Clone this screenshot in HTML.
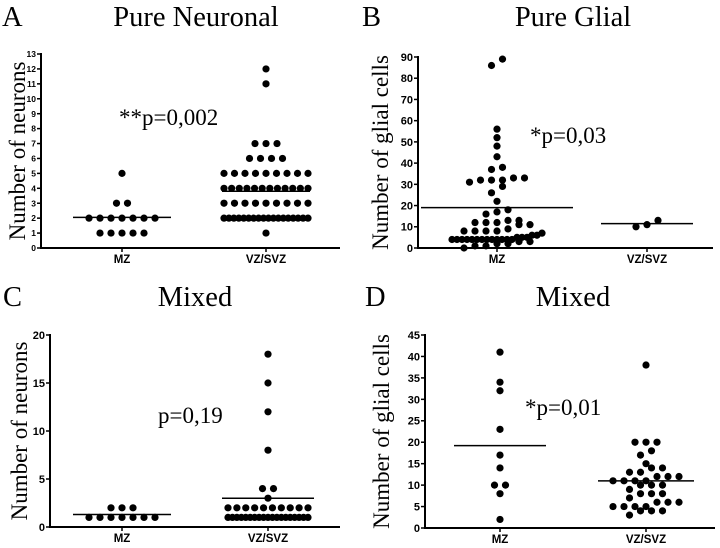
<!DOCTYPE html>
<html><head><meta charset="utf-8"><style>
html,body{margin:0;padding:0;background:#fff;}
svg{display:block;}
.ttl{font-family:"Liberation Serif",serif;font-size:28.5px;fill:#000;}
.lab{font-family:"Liberation Serif",serif;font-size:23px;fill:#000;}
.tk{font-family:"Liberation Sans",sans-serif;font-weight:bold;fill:#000;}
</style></head><body>
<svg id="chart" width="720" height="548" viewBox="0 0 720 548"></svg>
<script>
// Panel A: Pure Neuronal (number of neurons)
const aCategories = ["MZ","VZ/SVZ"];
const aMZ = [1,1,1,1,1,2,2,2,2,2,2,2,3,3,5];
const aVZ = [1,2,2,2,2,2,2,2,2,2,2,2,2,2,2,2,2,2,2,3,3,3,3,3,3,3,3,3,4,4,4,4,4,4,4,4,4,4,4,4,5,5,5,5,5,5,5,5,5,6,6,6,6,7,7,7,11,12];
const aMeans = [2.05, 3.8];
const aTicks = [0,1,2,3,4,5,6,7,8,9,10,11,12,13];
// Panel B: Pure Glial (number of glial cells)
const bMZ = [89,86,56,52,48,43,38,37,33,32,32,31,32,33,29,26,22,18,17,16,13,13,12,12,12,11,11,9,8,8,8,8,7,6,6,5,5,5,4,4,4,4,4,4,4,4,4,4,4,4,4,3,3,2,2,1,1,0];
const bVZ = [13,10,11];
const bMeans = [19, 11.5];
const bTicks = [0,10,20,30,40,50,60,70,80,90];
// Panel C: Mixed (number of neurons)
const cMZ = [1,1,1,1,1,1,1,2,2,2];
const cVZ = [1,1,1,1,1,1,1,1,1,1,1,1,1,1,1,1,1,1,1,2,2,2,2,2,2,2,2,2,2,3,4,4,8,12,15,18];
const cMeans = [1.3, 3.0];
const cTicks = [0,5,10,15,20];
// Panel D: Mixed (number of glial cells)
const dMZ = [41,34,32,23,17,14,10,10,8,2];
const dVZ = [38,20,20,20,18,17,15,14,14,13,13,12,12,12,11,11,11,11,10,10,10,9,8,8,8,7,6,6,6,5,5,5,5,4,4,4,3];
const dMeans = [19.2, 11];
const dTicks = [0,5,10,15,20,25,30,35,40,45];

const NS="http://www.w3.org/2000/svg";
const svg=document.getElementById('chart');
function mk(tag,attrs,parent){const e=document.createElementNS(NS,tag);for(const k in attrs)e.setAttribute(k,attrs[k]);(parent||svg).appendChild(e);return e;}

function panel(o){
  const g=mk('g',{});
  
  
  const ys=v=>o.y0-(v-o.vmin)/(o.vmax-o.vmin)*(o.y0-o.y1);
  let t=mk('text',{x:o.letterX,y:o.titleY,class:'ttl'},g);t.textContent=o.letter;
  
  t=mk('text',{x:o.titleX,y:o.titleY,class:'ttl','text-anchor':'middle'},g);t.textContent=o.title;
  
  t=mk('text',{x:0,y:0,class:'lab','text-anchor':'middle',transform:`translate(${o.ylabX},${(o.y0+o.y1)/2}) rotate(-90)`},g);t.textContent=o.ylab;
  
  let ax=mk('line',{x1:o.ax,y1:o.y1-1,x2:o.ax,y2:o.y0+1,stroke:'#000','stroke-width':2},g);
  
  ax=mk('line',{x1:o.ax-1,y1:o.y0,x2:o.axEnd,y2:o.y0,stroke:'#000','stroke-width':2},g);
  
  o.ticks.forEach(v=>{
    const y=ys(v);
    mk('line',{x1:o.ax-4,y1:y,x2:o.ax,y2:y,stroke:'#000','stroke-width':1.5},g);
    const tl=mk('text',{x:o.ax-5,y:y+o.tkSize*0.36,class:'tk','text-anchor':'end','font-size':o.tkSize},g);tl.textContent=v;
    
  });
  [o.cMZ,o.cVZ].forEach((cx,i)=>{
    mk('line',{x1:cx,y1:o.y0,x2:cx,y2:o.y0+4,stroke:'#000','stroke-width':1.5},g);
    const tl=mk('text',{x:cx,y:o.y0+15,class:'tk','text-anchor':'middle','font-size':11.5},g);tl.textContent=aCategories[i];
    
  });
  [[o.mz,o.cMZ,o.means[0],o.lineMZ],[o.vz,o.cVZ,o.means[1],o.lineVZ]].forEach(([vals,cx,mean,hw],gi)=>{
    const sorted=vals.slice().sort((a,b)=>a-b);
    const groups=[];
    sorted.forEach(v=>{const y=ys(v);const last=groups[groups.length-1];
      if(last&&Math.abs(ys(last[0])-y)<6.5)last.push(v);else groups.push([v]);});
    groups.forEach(gr=>{
      const n=gr.length;const sp=n>1?Math.min(11,o.maxW/(n-1)):0;
      gr.forEach((v,k)=>{
        const x=cx+(k-(n-1)/2)*sp;
        const c=mk('circle',{cx:x,cy:ys(v),r:3.6,fill:'#000'},g);
        
        
      });
    });
    const ml=mk('line',{x1:cx-hw,y1:ys(mean),x2:cx+hw,y2:ys(mean),stroke:'#000','stroke-width':1.5},g);
    
  });
  t=mk('text',{x:o.pX,y:o.pY,class:'lab'},g);t.textContent=o.p;
  
}

panel({id:'panel-a',letter:'A',letterX:2,title:'Pure Neuronal',titleX:196,titleY:26,ylab:'Number of neurons',ylabX:25,tkSize:8.5,
  ax:41,axEnd:340,y0:248,y1:54,vmin:0,vmax:13,ticks:aTicks,cMZ:122,cVZ:266,mz:aMZ,vz:aVZ,means:aMeans,lineMZ:49,lineVZ:44,maxW:84,
  p:'**p=0,002',pX:119,pY:125});
panel({id:'panel-b',letter:'B',letterX:362,title:'Pure Glial',titleX:573,titleY:26,ylab:'Number of glial cells',ylabX:388,tkSize:11,
  ax:418,axEnd:713,y0:248,y1:57,vmin:0,vmax:90,ticks:bTicks,cMZ:497,cVZ:647,mz:bMZ,vz:bVZ,means:bMeans,lineMZ:76,lineVZ:46,maxW:90,
  p:'*p=0,03',pX:530,pY:143});
panel({id:'panel-c',letter:'C',letterX:3,title:'Mixed',titleX:195,titleY:306,ylab:'Number of neurons',ylabX:27,tkSize:11,
  ax:50,axEnd:340,y0:527,y1:335,vmin:0,vmax:20,ticks:cTicks,cMZ:122,cVZ:268,mz:cMZ,vz:cVZ,means:cMeans,lineMZ:49,lineVZ:46,maxW:80,
  p:'p=0,19',pX:158,pY:423});
panel({id:'panel-d',letter:'D',letterX:365,title:'Mixed',titleX:573,titleY:306,ylab:'Number of glial cells',ylabX:389,tkSize:11,
  ax:425,axEnd:715,y0:528,y1:335,vmin:0,vmax:45,ticks:dTicks,cMZ:500,cVZ:646,mz:dMZ,vz:dVZ,means:dMeans,lineMZ:46,lineVZ:48,maxW:80,
  p:'*p=0,01',pX:525,pY:415});
</script>
</body></html>
